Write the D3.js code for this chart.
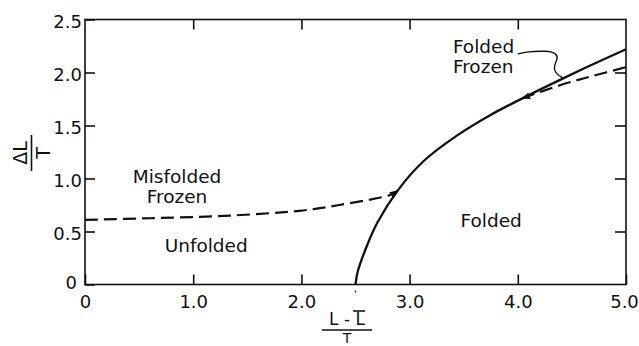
<!DOCTYPE html>
<html>
<head>
<meta charset="utf-8">
<script src="https://cdn.jsdelivr.net/npm/d3@7/dist/d3.min.js"></script>
<style>
  body { margin: 0; background: #fff; }
  text { font-family: "DejaVu Sans", sans-serif; fill: #111; }
</style>
</head>
<body>
<div id="chart"></div>
<script>
var W = 639, H = 346;

// ticks
var xTicks = [0, 1, 2, 3, 4, 5];
var xTickLabels = ["0", "1.0", "2.0", "3.0", "4.0", "5.0"];
var yTicks = [0, 0.5, 1.0, 1.5, 2.0, 2.5];
var yTickLabels = ["0", "0.5", "1.0", "1.5", "2.0", "2.5"];

// solid boundary: folded / unfolded
var solidLine = [[2.5, 0], [2.52, 0.12], [2.59, 0.325], [2.70, 0.58], [2.90, 0.90],
                 [3.13, 1.165], [3.43, 1.40], [3.74, 1.595], [4.08, 1.775], [4.40, 1.935],
                 [4.70, 2.08], [5.0, 2.22]];
// dashed: misfolded frozen / unfolded
var dashLow = [[0, 0.61], [0.6, 0.625], [1.34, 0.65], [1.98, 0.695], [2.17, 0.72],
               [2.35, 0.75], [2.6, 0.795], [2.82, 0.845], [2.89, 0.885]];
// dashed: folded frozen
var dashHigh = [[4.04, 1.755], [4.39, 1.88], [4.7, 1.97], [5.0, 2.05]];
// leader from the "Folded Frozen" label
var leader = [[4.0, 2.175], [4.08, 2.196], [4.27, 2.206], [4.36, 2.18], [4.37, 2.13],
              [4.33, 2.055], [4.345, 1.995], [4.42, 1.945]];

// region labels
var regionLabels = [
    {lines: ["Misfolded", "Frozen"], x: 0.85, y: 0.955, anchor: "middle"},
    {lines: ["Unfolded"], x: 1.12, y: 0.305, anchor: "middle"},
    {lines: ["Folded"], x: 3.47, y: 0.54, anchor: "start"},
    {lines: ["Folded", "Frozen"], x: 3.4, y: 2.18, anchor: "start"}
];

var svg = d3.select("#chart").append("svg")
    .attr("width", W)
    .attr("height", H);

var x = d3.scaleLinear().domain([0, 5]).range([85, 626]);
var y = d3.scaleLinear().domain([0, 2.5]).range([284.5, 19.5]);

// arrowhead for dashed ends touching the solid line
svg.append("defs").append("marker")
    .attr("id", "arr")
    .attr("viewBox", "0 0 10 10")
    .attr("refX", 9).attr("refY", 5)
    .attr("markerWidth", 4).attr("markerHeight", 4)
    .attr("orient", "auto-start-reverse")
    .append("path")
    .attr("d", "M0,1L10,5L0,9z")
    .attr("fill", "#111");

// frame
svg.append("rect")
    .attr("x", x(0)).attr("y", y(2.5))
    .attr("width", x(5) - x(0)).attr("height", y(0) - y(2.5))
    .attr("fill", "none").attr("stroke", "#111").attr("stroke-width", 1.6);

function styleAxis(g) {
    g.select(".domain").remove();
    g.selectAll(".tick line").attr("stroke", "#111").attr("stroke-width", 1.6);
    g.selectAll(".tick text").style("font-size", "18px").attr("fill", "#111");
}

var gx = svg.append("g")
    .attr("transform", "translate(0," + y(0) + ")")
    .call(d3.axisBottom(x).tickValues(xTicks).tickSizeInner(-10).tickSizeOuter(0).tickPadding(11)
        .tickFormat(function (d, i) { return xTickLabels[i]; }))
    .call(styleAxis);
gx.selectAll(".tick").filter(function (d) { return d === 5; }).select("text").attr("x", -2);

var gy = svg.append("g")
    .attr("transform", "translate(" + x(0) + ",0)")
    .call(d3.axisLeft(y).tickValues(yTicks).tickSizeInner(-10).tickSizeOuter(0).tickPadding(3)
        .tickFormat(function (d, i) { return yTickLabels[i]; }))
    .call(styleAxis);
gy.selectAll(".tick text").attr("dy", "0.44em");
gy.selectAll(".tick").filter(function (d) { return d === 0; }).select("text")
    .attr("x", -8).attr("dy", "0.2em");

// top and right inward ticks, no labels
svg.append("g")
    .attr("transform", "translate(0," + y(2.5) + ")")
    .call(d3.axisTop(x).tickValues(xTicks.slice(1, -1)).tickSizeInner(-10).tickSizeOuter(0).tickFormat(""))
    .call(styleAxis);
svg.append("g")
    .attr("transform", "translate(" + x(5) + ",0)")
    .call(d3.axisRight(y).tickValues(yTicks.slice(1, -1)).tickSizeInner(-11).tickSizeOuter(0).tickFormat(""))
    .call(styleAxis);

// little mark under 2.5
svg.append("line")
    .attr("x1", x(2.5)).attr("x2", x(2.5))
    .attr("y1", y(0) + 6).attr("y2", y(0) + 8)
    .attr("stroke", "#333").attr("stroke-width", 1.5);

var line = d3.line()
    .x(function (d) { return x(d[0]); })
    .y(function (d) { return y(d[1]); })
    .curve(d3.curveCatmullRom);

svg.append("path")
    .datum(solidLine)
    .attr("d", line)
    .attr("fill", "none").attr("stroke", "#111").attr("stroke-width", 2.3);

svg.append("path")
    .datum(dashLow)
    .attr("d", line)
    .attr("fill", "none").attr("stroke", "#111").attr("stroke-width", 2.2)
    .attr("stroke-dasharray", "13,6")
    .attr("marker-end", "url(#arr)");

svg.append("path")
    .datum(dashHigh)
    .attr("d", line)
    .attr("fill", "none").attr("stroke", "#111").attr("stroke-width", 2.2)
    .attr("stroke-dasharray", "13,6")
    .attr("marker-start", "url(#arr)");

svg.append("path")
    .datum(leader)
    .attr("d", line.curve(d3.curveBasis))
    .attr("fill", "none").attr("stroke", "#111").attr("stroke-width", 1.4);

// region labels
regionLabels.forEach(function (lab) {
    var t = svg.append("text")
        .attr("x", x(lab.x)).attr("y", y(lab.y))
        .attr("text-anchor", lab.anchor)
        .style("font-size", "18.5px");
    lab.lines.forEach(function (s, i) {
        t.append("tspan").attr("x", x(lab.x)).attr("dy", i === 0 ? 0 : 20).text(s);
    });
});

// x axis title: (L - L̄) / T
var xt = svg.append("g").attr("transform", "translate(347,0)");
xt.append("text").attr("x", 0).attr("y", 325).attr("text-anchor", "middle")
    .style("font-size", "17px").text("L - L");
xt.append("line").attr("x1", 6).attr("x2", 18).attr("y1", 311).attr("y2", 311)
    .attr("stroke", "#111").attr("stroke-width", 1.6);
xt.append("line").attr("x1", -25).attr("x2", 25).attr("y1", 330).attr("y2", 330)
    .attr("stroke", "#111").attr("stroke-width", 1.6);
xt.append("text").attr("x", 0).attr("y", 343).attr("text-anchor", "middle")
    .style("font-size", "14px").text("T");

// y axis title: ΔL / T, rotated
var yt = svg.append("g").attr("transform", "translate(31.5,153) rotate(-90)");
yt.append("text").attr("x", 0).attr("y", -5).attr("text-anchor", "middle")
    .style("font-size", "19px").text("ΔL");
yt.append("line").attr("x1", -18).attr("x2", 18).attr("y1", 0).attr("y2", 0)
    .attr("stroke", "#111").attr("stroke-width", 1.6);
yt.append("text").attr("x", 0).attr("y", 18).attr("text-anchor", "middle")
    .style("font-size", "19px").text("T");
</script>
</body>
</html>
